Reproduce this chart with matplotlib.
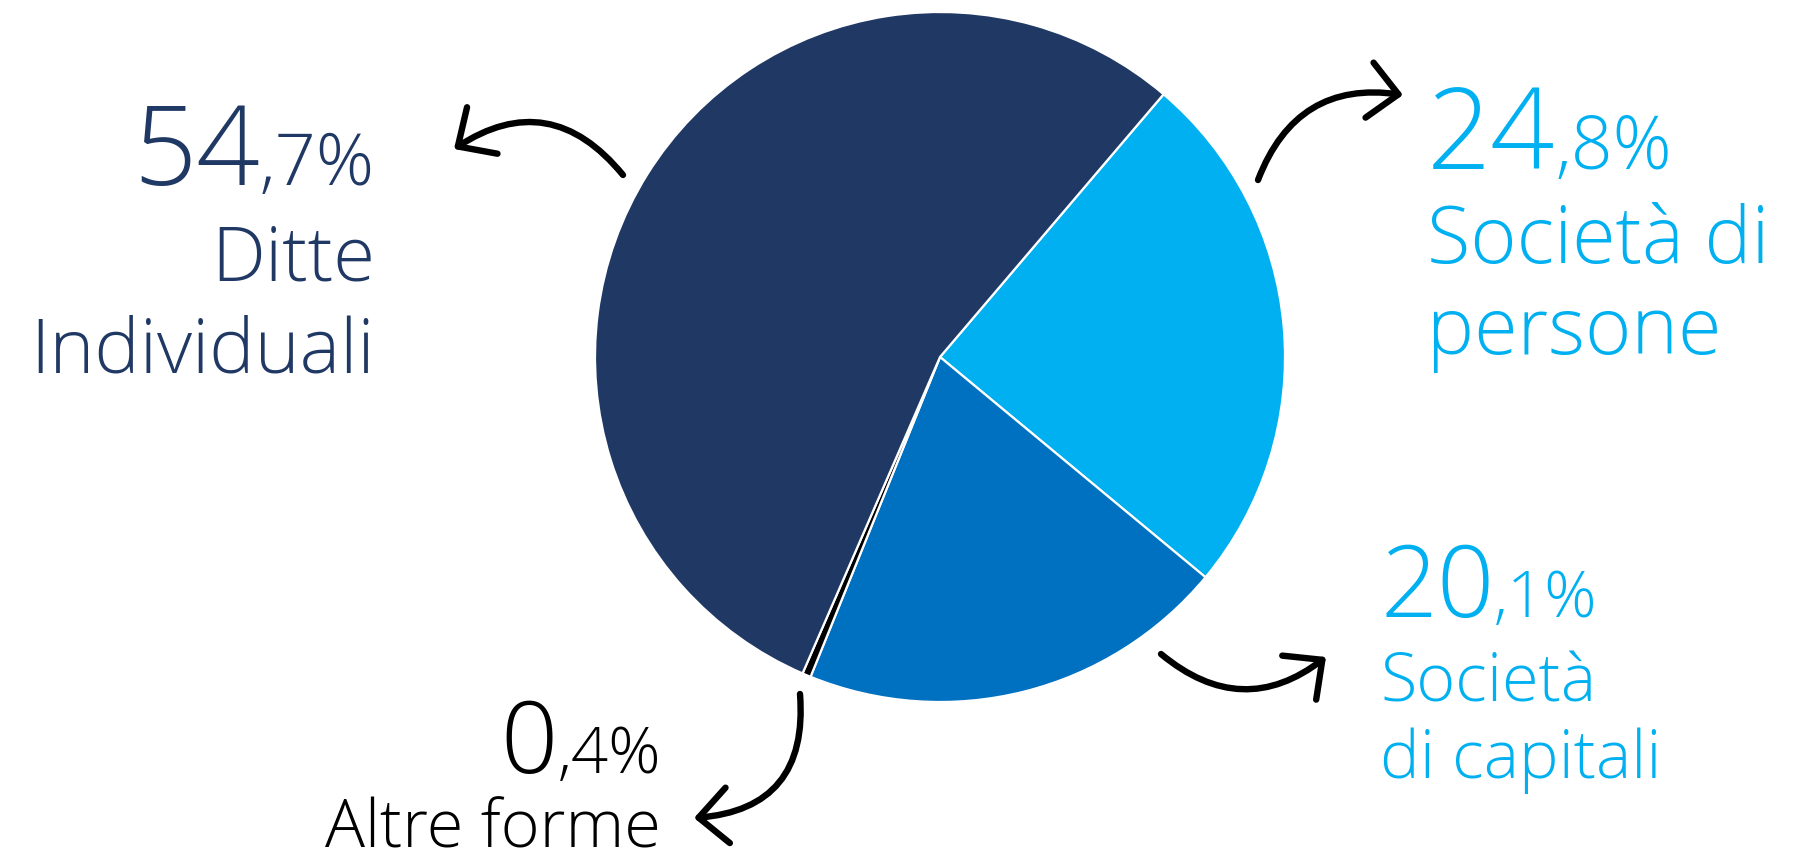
import matplotlib
matplotlib.use("Agg")
import matplotlib.pyplot as plt
from matplotlib.patches import FancyArrowPatch

plt.rcParams['font.family'] = ['Open Sans', 'DejaVu Sans']

# data, in pie order (clockwise from upper right)
values = [24.8, 20.1, 0.4, 54.7]
labels = [["Società di", "persone"], ["Società", "di capitali"], ["Altre forme"], ["Ditte", "Individuali"]]
slice_colors = ["#00B0F0", "#0070C0", "#000000", "#203864"]
text_colors = ["#00B0F0", "#00B0F0", "#000000", "#203864"]

W, H = 1793, 863
fig = plt.figure(figsize=(W / 100, H / 100), dpi=100)

# pie, centre (940, 357) px, radius 345 px
cx, cy, r = 940, 357, 345
ax = fig.add_axes([(cx - r) / W, (H - cy - r) / H, 2 * r / W, 2 * r / H])
ax.pie(values, colors=slice_colors, startangle=49.6, counterclock=False,
       wedgeprops=dict(edgecolor="white", linewidth=1.6))
ax.set_xlim(-1, 1)
ax.set_ylim(-1, 1)

# overlay in pixel coordinates (y down)
ov = fig.add_axes([0, 0, 1, 1])
ov.set_xlim(0, W)
ov.set_ylim(H, 0)
ov.axis("off")
ov.patch.set_alpha(0)
renderer = fig.canvas.get_renderer()

# label layout: x, align, number baseline, line baselines, number size, text size
layout = [
    (1427, "left", 169, [263, 354], 81, 57),
    (1380, "left", 617, [701, 778], 72, 48),
    (661, "right", 773, [847], 72, 48),
    (375, "right", 185, [280, 372], 80, 55),
]
WEIGHT = "light"


def px_width(t):
    bb = t.get_window_extent(renderer)
    return bb.width


for v, lines, col, (x, ha, nb, lbs, nsize, tsize) in zip(values, labels, text_colors, layout):
    s = f"{v:.1f}".replace(".", ",")
    big, small = s.split(",")
    small = "," + small + "%"
    if ha == "left":
        t1 = ov.text(x, nb, big, fontsize=nsize, color=col, ha="left", va="baseline", fontweight=WEIGHT)
        ov.text(x + px_width(t1), nb, small, fontsize=nsize * 0.65, color=col,
                ha="left", va="baseline", fontweight=WEIGHT)
    else:
        t2 = ov.text(x, nb, small, fontsize=nsize * 0.65, color=col, ha="right", va="baseline", fontweight=WEIGHT)
        ov.text(x - px_width(t2), nb, big, fontsize=nsize, color=col,
                ha="right", va="baseline", fontweight=WEIGHT)
    for line, b in zip(lines, lbs):
        ov.text(x, b, line, fontsize=tsize, color=col, ha=ha, va="baseline", fontweight=WEIGHT)

# curved arrows (start, tip, curvature)
arrows = [
    ((1258, 180), (1403, 95), -0.4),
    ((1161, 654), (1326, 657), 0.4),
    ((800, 694), (694, 818), -0.5),
    ((623, 175), (454, 149), 0.45),
]
for a, b, rad in arrows:
    ov.add_patch(FancyArrowPatch(a, b, connectionstyle=f"arc3,rad={rad}",
                                 arrowstyle="->,head_length=21,head_width=20",
                                 linewidth=4.6, color="black", capstyle="round",
                                 joinstyle="round", shrinkA=0, shrinkB=0))

fig.savefig("out.png", dpi=100)
